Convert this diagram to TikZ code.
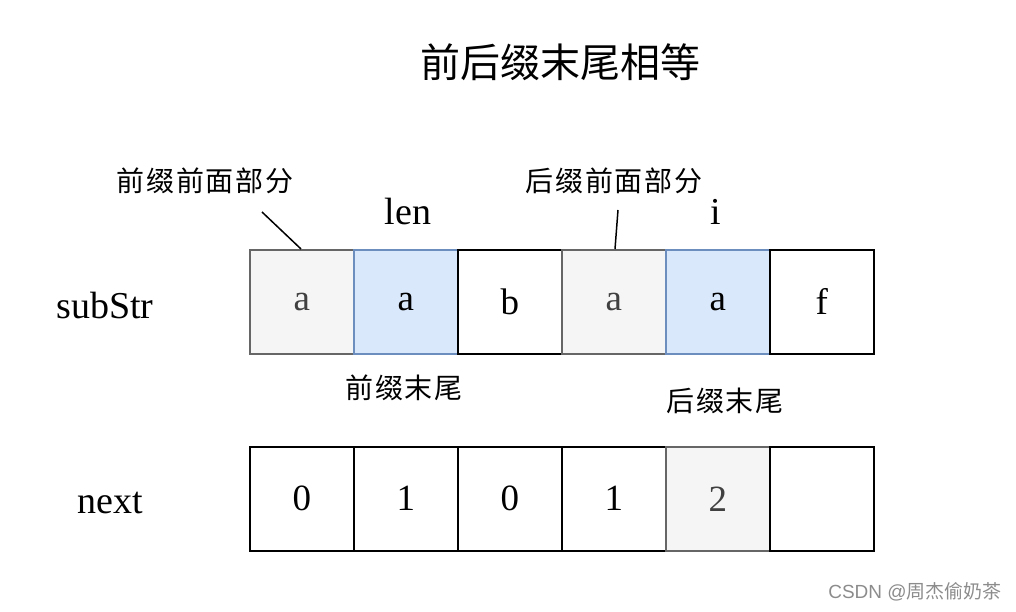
\documentclass[tikz,border=0pt]{standalone}
\usepackage{fontspec}
\usetikzlibrary{calc}
\setmainfont{Liberation Serif}
\newfontfamily\cjk{Noto Sans CJK SC}
\newfontfamily\cjksp[LetterSpace=6]{Noto Sans CJK SC}
\newfontfamily\wm{Liberation Sans}
\definecolor{bf}{HTML}{DAE8FC}
\definecolor{bd}{HTML}{6C8EBF}
\definecolor{gf}{HTML}{F5F5F5}
\definecolor{gd}{HTML}{666666}
\begin{document}
\begin{tikzpicture}[x=1pt,y=-1pt,
  cell/.style={draw=black,line width=1.5pt,minimum width=104pt,minimum height=104pt,inner sep=0pt,anchor=north west,font=\fontsize{37}{40}\selectfont},
  graycell/.style={cell,fill=gf,draw=gd,text=black!75},
  bluecell/.style={cell,fill=bf,draw=bd},
  lbl/.style={font=\cjksp\fontsize{28}{30}\selectfont,inner sep=0pt},
  rowlbl/.style={font=\fontsize{38}{42}\selectfont,inner sep=0pt},
  ptr/.style={line width=1.5pt,draw=black}]
\useasboundingbox (0,0) rectangle (1016,612);
\node[font=\cjk\fontsize{40}{44}\selectfont,inner sep=0pt] (title) at (560,62) {前后缀末尾相等};
% top row
\node[graycell] (s0) at (249,249) {a};
\node[bluecell] (s1) at (353,249) {a};
\node[cell] (s2) at (457,249) {b};
\node[graycell] (s3) at (561,249) {a};
\node[bluecell] (s4) at (665,249) {a};
\node[cell] (s5) at (769,249) {f};
% bottom row
\node[cell] (n0) at (249,446) {0};
\node[cell] (n1) at (353,446) {1};
\node[cell] (n2) at (457,446) {0};
\node[cell] (n3) at (561,446) {1};
\node[graycell] (n4) at (665,446) {2};
\node[cell] (n5) at (769,446) {};
% row labels
\node[rowlbl] (sub) at (105,306) {subStr};
\node[rowlbl] (nxt) at (110,503) {next};
% pointer labels
\node[rowlbl] (len) at (408,212) {len};
\node[rowlbl] (ii) at (716,212) {i};
% annotations
\node[lbl] (pf) at (205,181) {前缀前面部分};
\node[lbl] (sf) at (614,181) {后缀前面部分};
\node[lbl] (pe) at (404,388) {前缀末尾};
\node[lbl] (se) at (725,401) {后缀末尾};
\coordinate (pa) at (262,212);
\coordinate (sa) at (618,210);
\draw[ptr] (pa) -- ($(s0.north west)+(52,0)$);
\draw[ptr] (sa) -- ($(s3.north west)+(54,0)$);
\node[font=\wm\fontsize{19}{22}\selectfont,text=black!45,inner sep=0pt] (wmk) at (915,592) {CSDN @{\cjk 周杰偷奶茶}};
\end{tikzpicture}
\end{document}
